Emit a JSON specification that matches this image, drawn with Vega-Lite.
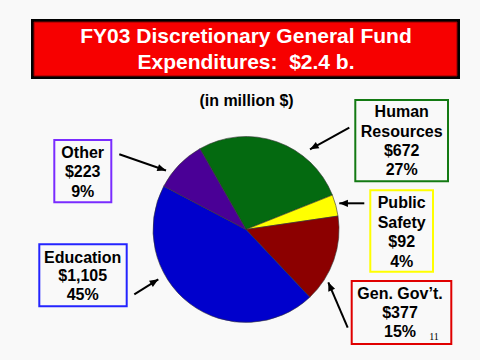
{
  "$schema": "https://vega.github.io/schema/vega-lite/v6.json",
  "width": 480,
  "height": 360,
  "padding": 0,
  "autosize": {"type": "none"},
  "background": "#f9f9f9",
  "config": {"view": {"stroke": null}},
  "datasets": {
    "pie": [
      {"category": "Human Resources", "value": 672, "ord": 1},
      {"category": "Public Safety", "value": 92, "ord": 2},
      {"category": "Gen. Gov't.", "value": 377, "ord": 3},
      {"category": "Education", "value": 1105, "ord": 4},
      {"category": "Other", "value": 223, "ord": 5}
    ],
    "boxes": [
      {"category": "Human Resources", "x1": 355.3, "x2": 448, "y1": 100, "y2": 181.3},
      {"category": "Public Safety", "x1": 370.3, "x2": 433, "y1": 190.3, "y2": 271.7},
      {"category": "Gen. Gov't.", "x1": 351.7, "x2": 451.3, "y1": 281, "y2": 344},
      {"category": "Other", "x1": 54.3, "x2": 111.3, "y1": 140, "y2": 202.3},
      {"category": "Education", "x1": 39.3, "x2": 126.7, "y1": 244.3, "y2": 306.3}
    ],
    "arrows": [
      {"category": "Human Resources", "x1": 349.3, "y1": 127.7, "x2": 310, "y2": 149.3},
      {"category": "Public Safety", "x1": 364.3, "y1": 203.3, "x2": 339.3, "y2": 203.3},
      {"category": "Gen. Gov't.", "x1": 347.7, "y1": 327.7, "x2": 328.3, "y2": 282.3},
      {"category": "Other", "x1": 119.3, "y1": 154.3, "x2": 166, "y2": 170.5},
      {"category": "Education", "x1": 134.3, "y1": 294.3, "x2": 158.3, "y2": 279.3}
    ],
    "labels": [
      {"t": "Human", "x": 401.7, "y": 112.3},
      {"t": "Resources", "x": 401.7, "y": 132.3},
      {"t": "$672", "x": 401.7, "y": 151},
      {"t": "27%", "x": 401.7, "y": 170},
      {"t": "Public", "x": 401.7, "y": 203.3},
      {"t": "Safety", "x": 401.7, "y": 222.7},
      {"t": "$92", "x": 401.7, "y": 241.7},
      {"t": "4%", "x": 401.7, "y": 261.7},
      {"t": "Gen. Gov’t.", "x": 400, "y": 294},
      {"t": "$377", "x": 400, "y": 312.7},
      {"t": "15%", "x": 400, "y": 332.3},
      {"t": "Other", "x": 82.7, "y": 152.7},
      {"t": "$223", "x": 82.7, "y": 172.3},
      {"t": "9%", "x": 82.7, "y": 191.7},
      {"t": "Education", "x": 82.7, "y": 257.7},
      {"t": "$1,105", "x": 82.7, "y": 276},
      {"t": "45%", "x": 82.7, "y": 295},
      {"t": "(in million $)", "x": 246.5, "y": 100.7}
    ],
    "titles": [
      {"t": "FY03 Discretionary General Fund", "x": 246, "y": 37},
      {"t": "Expenditures:\u00a0 $2.4 b.", "x": 246, "y": 62.5}
    ],
    "titlebox": [
      {"part": "outer", "x1": 31, "x2": 460, "y1": 19, "y2": 79}
    ],
    "titleinner": [
      {"part": "inner", "x1": 34, "x2": 457, "y1": 22, "y2": 76}
    ],
    "page": [
      {"t": "11", "x": 434, "y": 337}
    ]
  },
  "layer": [
    {
      "data": {"name": "titlebox"},
      "mark": {"type": "rect", "fill": "#000000"},
      "encoding": {
        "x": {"field": "x1", "type": "quantitative", "scale": {"domain": [0, 480], "nice": false, "zero": false}, "axis": null},
        "x2": {"field": "x2"},
        "y": {"field": "y1", "type": "quantitative", "scale": {"domain": [0, 360], "nice": false, "zero": false, "reverse": true}, "axis": null},
        "y2": {"field": "y2"}
      }
    },
    {
      "data": {"name": "titleinner"},
      "mark": {"type": "rect", "fill": "#f70000", "stroke": "#8a0000", "strokeWidth": 1},
      "encoding": {
        "x": {"field": "x1", "type": "quantitative", "scale": {"domain": [0, 480], "nice": false, "zero": false}, "axis": null},
        "x2": {"field": "x2"},
        "y": {"field": "y1", "type": "quantitative", "scale": {"domain": [0, 360], "nice": false, "zero": false, "reverse": true}, "axis": null},
        "y2": {"field": "y2"}
      }
    },
    {
      "data": {"name": "titles"},
      "mark": {"type": "text", "font": "Liberation Sans", "fontWeight": "bold", "fontSize": 21, "fill": "#ffffff", "align": "center", "baseline": "middle"},
      "encoding": {
        "x": {"field": "x", "type": "quantitative", "scale": {"domain": [0, 480], "nice": false, "zero": false}, "axis": null},
        "y": {"field": "y", "type": "quantitative", "scale": {"domain": [0, 360], "nice": false, "zero": false, "reverse": true}, "axis": null},
        "text": {"field": "t"}
      }
    },
    {
      "data": {"name": "pie"},
      "mark": {"type": "arc", "outerRadius": 93, "stroke": "#333333", "strokeWidth": 0.6},
      "encoding": {
        "x": {"datum": 246, "type": "quantitative", "scale": {"domain": [0, 480], "nice": false, "zero": false}, "axis": null},
        "y": {"datum": 229.5, "type": "quantitative", "scale": {"domain": [0, 360], "nice": false, "zero": false, "reverse": true}, "axis": null},
        "theta": {"field": "value", "type": "quantitative", "stack": true, "scale": {"range": [-0.5184, 5.7648]}},
        "order": {"field": "ord", "type": "quantitative"},
        "color": {
          "field": "category", "type": "nominal", "legend": null,
          "scale": {
            "domain": ["Human Resources", "Public Safety", "Gen. Gov't.", "Education", "Other"],
            "range": ["#046a10", "#ffff00", "#8c0000", "#0000cc", "#4a0096"]
          }
        }
      }
    },
    {
      "data": {"name": "boxes"},
      "mark": {"type": "rect", "filled": false, "strokeWidth": 2},
      "encoding": {
        "x": {"field": "x1", "type": "quantitative", "scale": {"domain": [0, 480], "nice": false, "zero": false}, "axis": null},
        "x2": {"field": "x2"},
        "y": {"field": "y1", "type": "quantitative", "scale": {"domain": [0, 360], "nice": false, "zero": false, "reverse": true}, "axis": null},
        "y2": {"field": "y2"},
        "stroke": {
          "field": "category", "type": "nominal", "legend": null,
          "scale": {
            "domain": ["Human Resources", "Public Safety", "Gen. Gov't.", "Education", "Other"],
            "range": ["#137a13", "#ffff00", "#e00000", "#2424ff", "#7a2cff"]
          }
        }
      }
    },
    {
      "data": {"name": "arrows"},
      "mark": {"type": "rule", "stroke": "#000000", "strokeWidth": 2},
      "encoding": {
        "x": {"field": "x1", "type": "quantitative", "scale": {"domain": [0, 480], "nice": false, "zero": false}, "axis": null},
        "x2": {"field": "x2"},
        "y": {"field": "y1", "type": "quantitative", "scale": {"domain": [0, 360], "nice": false, "zero": false, "reverse": true}, "axis": null},
        "y2": {"field": "y2"}
      }
    },
    {
      "data": {"name": "arrows"},
      "transform": [
        {"calculate": "atan2(datum.x2 - datum.x1, datum.y1 - datum.y2) * 180 / PI", "as": "ang"}
      ],
      "mark": {"type": "point", "filled": true, "fill": "#000000", "opacity": 1, "strokeWidth": 0, "shape": "M0,0L0.42,1L-0.42,1Z", "size": 300},
      "encoding": {
        "x": {"field": "x2", "type": "quantitative", "scale": {"domain": [0, 480], "nice": false, "zero": false}, "axis": null},
        "y": {"field": "y2", "type": "quantitative", "scale": {"domain": [0, 360], "nice": false, "zero": false, "reverse": true}, "axis": null},
        "angle": {"field": "ang", "type": "quantitative", "scale": null}
      }
    },
    {
      "data": {"name": "labels"},
      "mark": {"type": "text", "font": "Liberation Sans", "fontWeight": "bold", "fontSize": 16, "fill": "#000000", "align": "center", "baseline": "middle"},
      "encoding": {
        "x": {"field": "x", "type": "quantitative", "scale": {"domain": [0, 480], "nice": false, "zero": false}, "axis": null},
        "y": {"field": "y", "type": "quantitative", "scale": {"domain": [0, 360], "nice": false, "zero": false, "reverse": true}, "axis": null},
        "text": {"field": "t"}
      }
    },
    {
      "data": {"name": "page"},
      "mark": {"type": "text", "font": "Liberation Serif", "fontSize": 10, "fill": "#000000", "align": "center", "baseline": "middle"},
      "encoding": {
        "x": {"field": "x", "type": "quantitative", "scale": {"domain": [0, 480], "nice": false, "zero": false}, "axis": null},
        "y": {"field": "y", "type": "quantitative", "scale": {"domain": [0, 360], "nice": false, "zero": false, "reverse": true}, "axis": null},
        "text": {"field": "t"}
      }
    }
  ]
}
